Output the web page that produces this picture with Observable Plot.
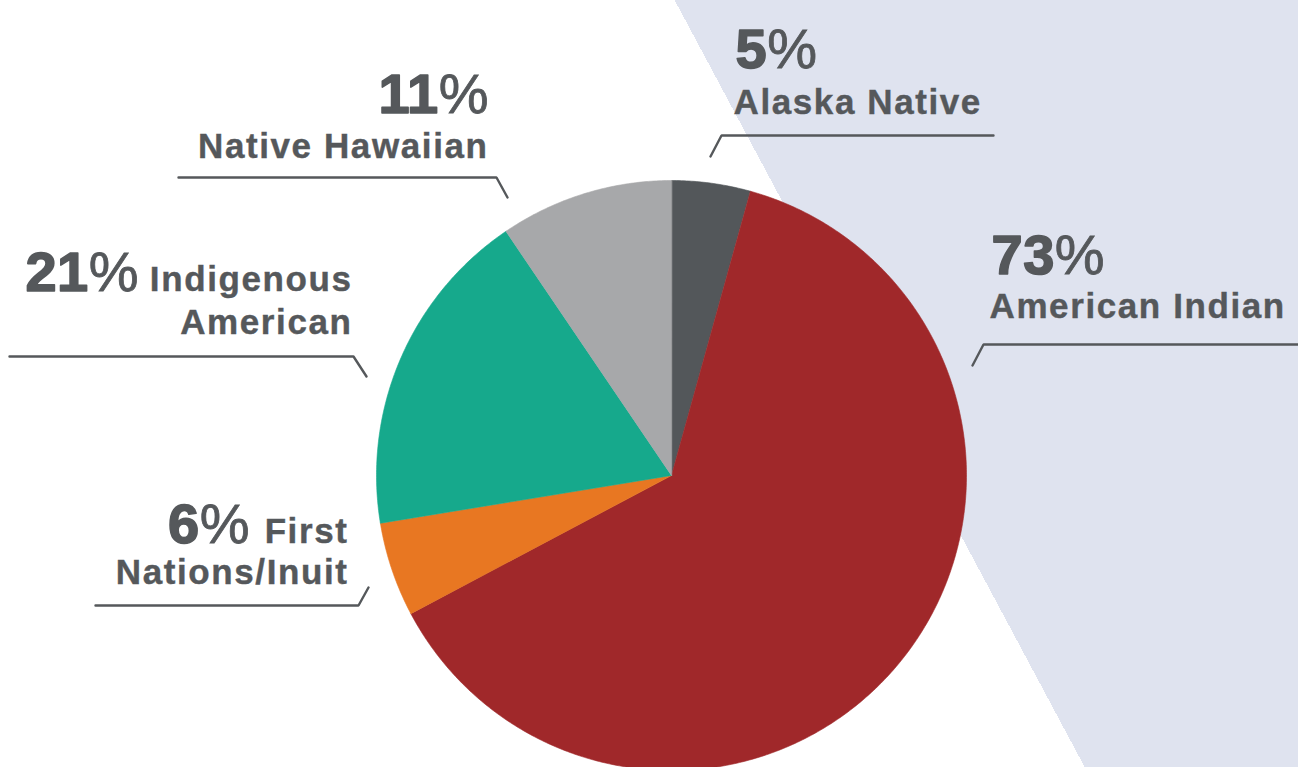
<!DOCTYPE html>
<html><head><meta charset="utf-8">
<script src="https://cdn.jsdelivr.net/npm/d3@7"></script>
<script src="https://cdn.jsdelivr.net/npm/@observablehq/plot@0.6"></script>
<style>
html,body{margin:0;padding:0;background:#fff;overflow:hidden}
#chart{width:1298px;height:767px;background:linear-gradient(61.87deg,#ffffff 63.5%,#dfe3ef 63.5%);}
#chart svg{display:block;background:transparent !important}
</style></head><body><div id="chart"></div>
<script>
// ---- data ----
const groups = ["Alaska Native", "American Indian", "First Nations/Inuit", "Indigenous American", "Native Hawaiian"];
const percents = [5, 73, 6, 21, 11];
const colors = ["#53575a", "#a0282a", "#e87722", "#16a98c", "#a7a8aa"];
const nameLines = [["Alaska Native"], ["American Indian"], ["First", "Nations/Inuit"], ["Indigenous", "American"], ["Native Hawaiian"]];

// ---- layout (pixel space, identity scales) ----
const W = 1298, H = 767;
const cx = 671, cy = 475, R = 295;
const TEXT = "#55585b";
const layout = {
  "Alaska Native":      {pct: [735, 67, "start"],  names: [[733, 113, "start"]], leader: [[993,135],[721,135],[710,156]]},
  "American Indian":    {pct: [991, 273, "start"], names: [[989, 317, "start"]], leader: [[1300,344],[983,344],[972,365]]},
  "First Nations/Inuit":{pct: [248, 542, "end"],   names: [[348, 542, "end"],[348, 583, "end"]], leader: [[95,605],[358,605],[368,587]]},
  "Indigenous American":{pct: [137, 290, "end"],   names: [[352, 290, "end"],[352, 333, "end"]], leader: [[9,356],[353,356],[366,376]]},
  "Native Hawaiian":    {pct: [487, 112, "end"],   names: [[488, 157, "end"]], leader: [[178,177],[496,177],[507,197]]}
};

// ---- pie geometry from the data ----
const arcs = d3.pie().sort(null).value(d => d)(percents);
const slicePts = [];
arcs.forEach((a, i) => {
  slicePts.push({group: groups[i], x: cx, y: cy});
  const n = Math.max(4, Math.ceil((a.endAngle - a.startAngle) / (Math.PI / 360)));
  for (let k = 0; k <= n; k++) {
    const t = a.startAngle + (a.endAngle - a.startAngle) * k / n;
    slicePts.push({group: groups[i], x: cx + R * Math.sin(t), y: cy - R * Math.cos(t)});
  }
});

const leaderPts = [];
const bigText = [];
const nameText = [];
groups.forEach((g, i) => {
  const L = layout[g];
  L.leader.forEach(p => leaderPts.push({group: g, x: p[0], y: p[1]}));
  bigText.push({text: percents[i] + "%", x: L.pct[0], y: L.pct[1], anchor: L.pct[2]});
  nameLines[i].forEach((t, j) => nameText.push({text: t, x: L.names[j][0], y: L.names[j][1], anchor: L.names[j][2]}));
});

const font = "'Liberation Sans', Arial, Helvetica, sans-serif";
const textMarks = [];
for (const anchor of ["start", "end"]) {
  textMarks.push(Plot.text(bigText.filter(d => d.anchor === anchor), {
    x: "x", y: "y", text: "text", textAnchor: anchor, lineAnchor: "bottom",
    fontSize: 56, fontWeight: 700, fontFamily: font, fill: TEXT
  }));
  textMarks.push(Plot.text(nameText.filter(d => d.anchor === anchor), {
    x: "x", y: "y", text: "text", textAnchor: anchor, lineAnchor: "bottom",
    fontSize: 35, fontWeight: 700, fontFamily: font, fill: TEXT
  }));
}

const chart = Plot.plot({
  width: W, height: H,
  margin: 0,
  style: {background: "transparent", overflow: "visible"},
  x: {domain: [0, W], range: [0, W], axis: null},
  y: {domain: [0, H], range: [0, H], axis: null},
  color: {domain: groups, range: colors},
  marks: [
    Plot.line(slicePts, {x: "x", y: "y", z: "group", fill: "group", stroke: "group", strokeWidth: 0.6, curve: "linear-closed"}),
    Plot.line(leaderPts, {x: "x", y: "y", z: "group", stroke: TEXT, strokeWidth: 2.4, strokeLinejoin: "miter"}),
    ...textMarks
  ]
});
document.getElementById("chart").appendChild(chart);

// typographic touches: heavy digits, lighter % sign, letter spacing on names
d3.select(chart).selectAll("text").each(function () {
  const t = this.textContent;
  const m = /^(\d+)%$/.exec(t);
  if (m) {
    this.textContent = "";
    const sel = d3.select(this);
    sel.append("tspan").text(m[1])
      .style("letter-spacing", "0.5px")
      .attr("stroke", TEXT).attr("stroke-width", 1.6).attr("stroke-linejoin", "round");
    sel.append("tspan").text("%")
      .attr("font-weight", 400)
      .style("letter-spacing", "-1px")
      .attr("font-family", "'Liberation Sans Narrow', 'Arial Narrow', 'Liberation Sans', sans-serif")
      .attr("stroke", TEXT).attr("stroke-width", 0.8);
  } else {
    d3.select(this).style("letter-spacing", "1.6px")
      .attr("stroke", TEXT).attr("stroke-width", 0.4);
  }
});
</script></body></html>
